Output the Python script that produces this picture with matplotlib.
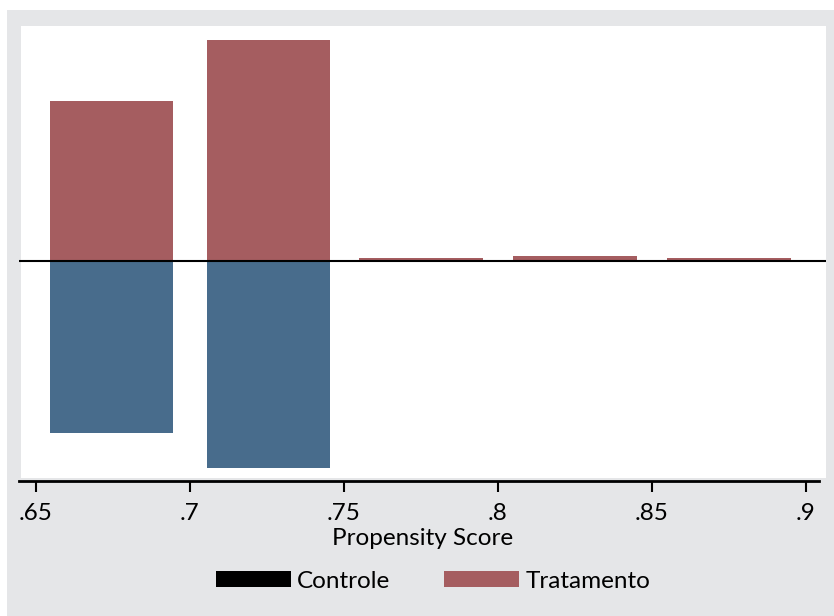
import matplotlib
matplotlib.use("Agg")
import matplotlib.pyplot as plt
from matplotlib.patches import Patch, Rectangle

plt.rcParams["font.family"] = ["Lato", "DejaVu Sans"]

# bins of propensity score (centres) and bar heights (counts)
bin_centers = [0.6745, 0.7255, 0.775, 0.825, 0.875]
bin_width = 0.04
treated = [53.3, 73.7, 1.0, 1.7, 1.0]
control = [57.3, 69.0, 0.0, 0.3, 0.0]

xticks = [0.65, 0.70, 0.75, 0.80, 0.85, 0.90]
xtick_labels = [".65", ".7", ".75", ".8", ".85", ".9"]
legend_labels = ["Controle", "Tratamento"]

red = "#a55d60"
blue = "#486c8c"
gray_bg = "#e5e6e8"

W, H = 834, 616
fig = plt.figure(figsize=(W / 100, H / 100), dpi=100)
fig.patch.set_facecolor("white")

# stata style gray graph region and white plot region
fig.patches.append(Rectangle((7 / W, 0), 827 / W, 606 / H, transform=fig.transFigure,
                             facecolor=gray_bg, edgecolor="none", zorder=-2))
fig.patches.append(Rectangle((21 / W, 1 - 478 / H), 805 / W, 452 / H, transform=fig.transFigure,
                             facecolor="white", edgecolor="none", zorder=-1))

ax = fig.add_axes([18.6 / W, 1 - 481 / H, (826 - 18.6) / W, (481 - 26) / H])
ax.set_facecolor("none")

ax.bar(bin_centers, treated, width=bin_width, color=red, linewidth=0)
ax.bar(bin_centers, [-c for c in control], width=bin_width, color=blue, linewidth=0)
ax.axhline(0, color="black", linewidth=1.5, zorder=3)

ax.set_xlim(0.6444, 0.9065)
ax.set_ylim(-73.3, 78.3)
ax.set_yticks([])
for s in ["top", "right", "left"]:
    ax.spines[s].set_visible(False)
ax.spines["bottom"].set_linewidth(2)
ax.spines["bottom"].set_bounds(0.6444, 0.9042)

ax.set_xticks(xticks)
ax.set_xticklabels(xtick_labels)
ax.tick_params(axis="x", length=8, width=1.5, labelsize=17.5, pad=8)
ax.set_xlabel("Propensity Score", fontsize=17.5, labelpad=3)

handles = [Patch(facecolor="black"), Patch(facecolor=red)]
fig.legend(handles, legend_labels, loc="center", bbox_to_anchor=(433 / W, 1 - 581 / H),
           ncol=2, frameon=False, fontsize=17.5, handlelength=3.1, handleheight=0.66,
           handletextpad=0.25, columnspacing=2.2)

plt.savefig("out.png", dpi=100)
